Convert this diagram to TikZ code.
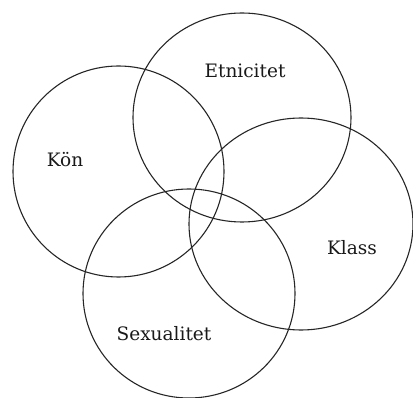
\documentclass[tikz,border=0pt]{standalone}
\usepackage{fontspec}
\setmainfont{DejaVu Serif}
\usepackage{tikz}
\usetikzlibrary{shapes.geometric}

\begin{document}
\begin{tikzpicture}[
  x=1pt, y=-1pt,
  setring/.style={
    draw=black!85,
    ellipse,
    line width=1.1pt,
    inner sep=0pt
  },
  setname/.style={
    font=\fontsize{18.5}{21}\selectfont,
    text=black!90
  }
]
  \useasboundingbox (0,0) rectangle (413,398);

  % The four overlapping sets
  \node[setring, minimum width=218pt, minimum height=209pt] (etn) at (242,117.5) {};
  \node[setring, minimum width=211pt, minimum height=211pt] (kon) at (118.5,171.5) {};
  \node[setring, minimum width=224pt, minimum height=212pt] (klass) at (301,224) {};
  \node[setring, minimum width=212pt, minimum height=209pt] (sex) at (189,293.5) {};

  % Set names
  \node[setname] (etnlabel) at (245,71) {Etnicitet};
  \node[setname] (konlabel) at (65,160) {Kön};
  \node[setname] (klasslabel) at (352,248) {Klass};
  \node[setname] (sexlabel) at (164,334) {Sexualitet};

\end{tikzpicture}
\end{document}
